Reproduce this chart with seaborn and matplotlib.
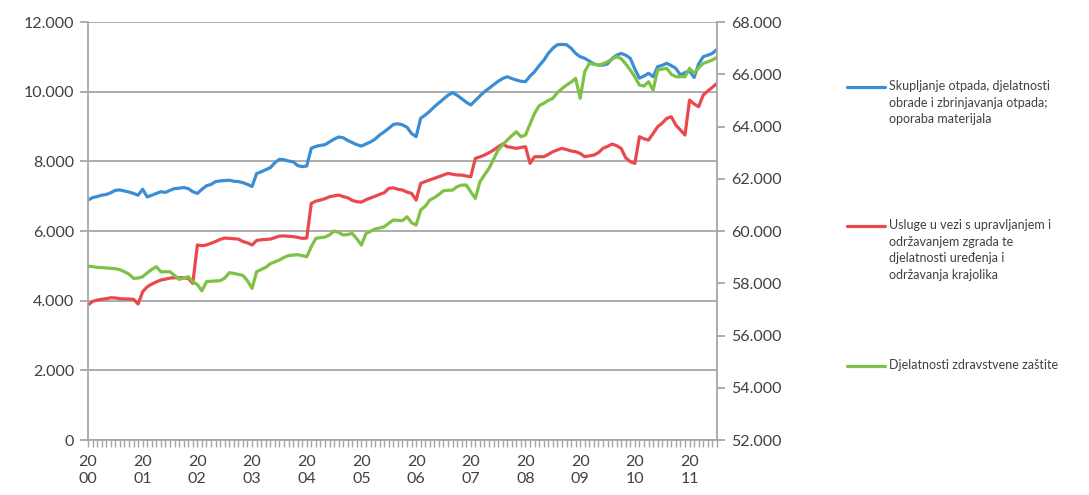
import numpy as np
import pandas as pd
import seaborn as sns
import matplotlib.pyplot as plt
from matplotlib.lines import Line2D
from matplotlib.ticker import FuncFormatter, MultipleLocator

# monthly values, Jan 2000 .. Jul 2011
waste = [
    6890, 6960, 6990, 7030, 7050, 7100, 7170, 7180, 7150, 7120, 7080, 7030,
    7200, 6980, 7030, 7080, 7130, 7110, 7170, 7220, 7230, 7250, 7220, 7130,
    7080, 7200, 7300, 7340, 7420, 7440, 7450, 7460, 7430, 7420, 7390, 7340,
    7280, 7650, 7700, 7760, 7820, 7960, 8060, 8050, 8010, 7990, 7880, 7850,
    7870, 8380, 8430, 8460, 8480, 8560, 8640, 8700, 8680, 8600, 8540, 8480,
    8440, 8500, 8560, 8640, 8760, 8850, 8950, 9060, 9080, 9050, 8980, 8800,
    8710, 9240, 9330, 9440, 9570, 9680, 9790, 9900, 9970, 9900, 9800, 9700,
    9620, 9750, 9880, 10000, 10100, 10200, 10300, 10380, 10430, 10380, 10335, 10300,
    10290, 10450, 10575, 10750, 10900, 11100, 11250, 11350, 11360, 11350, 11250, 11100,
    11005, 10960, 10880, 10800, 10765, 10765, 10800, 10950, 11050, 11100, 11050, 10960,
    10650, 10390, 10450, 10530, 10430, 10720, 10760, 10815, 10750, 10670, 10480, 10550,
    10600, 10410, 10800, 11005, 11050, 11100, 11215,
]
buildings = [
    3876, 3980, 4020, 4040, 4060, 4085, 4080, 4060, 4050, 4050, 4040, 3905,
    4258, 4400, 4480, 4540, 4594, 4620, 4650, 4660, 4660, 4660, 4640, 4500,
    5600, 5580, 5600, 5650, 5700, 5760, 5800, 5790, 5780, 5770, 5700, 5660,
    5600, 5730, 5750, 5760, 5770, 5810, 5857, 5860, 5850, 5840, 5820, 5790,
    5800, 6795, 6860, 6890, 6930, 6985, 7010, 7035, 6990, 6957, 6880, 6843,
    6830, 6900, 6950, 7000, 7054, 7100, 7226, 7240, 7200, 7178, 7120, 7082,
    6890, 7370, 7420, 7470, 7513, 7560, 7610, 7657, 7630, 7610, 7608, 7580,
    7560, 8087, 8130, 8182, 8250, 8326, 8420, 8498, 8422, 8400, 8374, 8400,
    8422, 7944, 8135, 8135, 8135, 8200, 8278, 8330, 8374, 8340, 8300, 8278,
    8230, 8135, 8160, 8182, 8250, 8374, 8430, 8498, 8450, 8374, 8100, 7990,
    7944, 8708, 8650, 8613, 8800, 8995, 9100, 9235, 9282, 9043, 8900, 8756,
    9760, 9650, 9570, 9905, 10020, 10125, 10240,
]
health = [
    58661, 58640, 58611, 58600, 58590, 58572, 58560, 58520, 58444, 58350, 58190, 58200,
    58253, 58400, 58534, 58635, 58440, 58444, 58444, 58300, 58152, 58200, 58253, 58063,
    57950, 57716, 58063, 58080, 58090, 58100, 58200, 58405, 58380, 58343, 58300, 58100,
    57806, 58444, 58530, 58611, 58750, 58820, 58890, 58990, 59060, 59082, 59095, 59060,
    59017, 59400, 59722, 59750, 59770, 59850, 60000, 59950, 59848, 59870, 59910, 59700,
    59465, 59910, 59990, 60080, 60120, 60166, 60300, 60422, 60410, 60400, 60548, 60318,
    60230, 60804, 60950, 61187, 61280, 61400, 61543, 61560, 61568, 61700, 61761, 61761,
    61500, 61250, 61888, 62150, 62400, 62750, 63102, 63300, 63484, 63650, 63802, 63611,
    63675, 64100, 64506, 64800, 64889, 65000, 65081, 65300, 65450, 65590, 65700, 65846,
    65081, 66100, 66420, 66390, 66355, 66400, 66483, 66580, 66675, 66600, 66400, 66164,
    65900, 65590, 65550, 65716, 65398, 66164, 66200, 66229, 66000, 65909, 65909, 65909,
    66229, 66036, 66250, 66420, 66480, 66547, 66650,
]
years = list(range(2000, 2012))

labels = [
    "Skupljanje otpada, djelatnosti\nobrade i zbrinjavanja otpada;\noporaba materijala",
    "Usluge u vezi s upravljanjem i\nodržavanjem zgrada te\ndjelatnosti uređenja i\nodržavanja krajolika",
    "Djelatnosti zdravstvene zaštite",
]
colors = ["#3b8ed3", "#e9494c", "#7dc145"]

df = pd.DataFrame({"month": np.arange(len(waste)), "waste": waste,
                   "buildings": buildings, "health": health})

sns.set_style("white")
plt.rcParams["font.family"] = ["Lato", "DejaVu Sans"]

fig = plt.figure(figsize=(10.89, 4.95), dpi=100)
ax = fig.add_axes([0.0808, 0.111, 0.5775, 0.8444])
ax2 = ax.twinx()

sns.lineplot(data=df, x="month", y="waste", ax=ax, color=colors[0], linewidth=2.3)
sns.lineplot(data=df, x="month", y="buildings", ax=ax, color=colors[1], linewidth=2.3)
sns.lineplot(data=df, x="month", y="health", ax=ax2, color=colors[2], linewidth=2.3)

grey = "#a6a6a6"
txt = "#404040"
thousands = FuncFormatter(lambda v, p: f"{v:,.0f}".replace(",", "."))

ax.set_xlim(0, len(waste) - 1)
ax.set_ylim(0, 12000)
ax2.set_ylim(52000, 68000)
ax.yaxis.set_major_locator(MultipleLocator(2000))
ax2.yaxis.set_major_locator(MultipleLocator(2000))
ax.yaxis.set_major_formatter(thousands)
ax2.yaxis.set_major_formatter(thousands)
ax.set_xticks([12 * k for k in range(len(years))])
ax.set_xticklabels([f"{str(y)[:2]}\n{str(y)[2:]}" for y in years])
ax.xaxis.set_minor_locator(MultipleLocator(1))
ax.set_xlabel("")
ax.set_ylabel("")
ax2.set_ylabel("")

ax.grid(axis="y", color=grey, linewidth=1.3)
ax.grid(axis="x", visible=False)
ax2.grid(False)
ax.set_axisbelow(True)

for a in (ax, ax2):
    for side in ["top", "left", "right", "bottom"]:
        a.spines[side].set_visible(False)
ax.spines["left"].set_visible(True)
ax.spines["bottom"].set_visible(True)
ax2.spines["right"].set_visible(True)
for sp in (ax.spines["left"], ax.spines["bottom"], ax2.spines["right"]):
    sp.set_color(grey)
    sp.set_linewidth(1.3)

ax.tick_params(axis="y", which="major", direction="out", length=6, width=1.3,
               color=grey, labelsize=11.5, labelcolor=txt, pad=4, left=True)
ax2.tick_params(axis="y", which="major", direction="out", length=6, width=1.3,
                color=grey, labelsize=11.5, labelcolor=txt, pad=4, right=True)
ax.tick_params(axis="x", which="major", direction="out", length=5, width=1,
               color=grey, labelsize=11.5, labelcolor=txt, pad=6, bottom=True)
ax.tick_params(axis="x", which="minor", direction="out", length=5, width=1,
               color=grey, bottom=True)
for t in ax.get_xticklabels():
    t.set_linespacing(1.25)

# legend at the right, line aligned with the first text row
legend_rows = [0.824, 0.543, 0.261]
for lab, col, yy in zip(labels, colors, legend_rows):
    fig.add_artist(Line2D([0.778, 0.813], [yy, yy], color=col, linewidth=2.3,
                          transform=fig.transFigure))
    fig.text(0.816, yy + 0.014, lab, fontsize=9, color=txt, va="top", ha="left",
             linespacing=1.45)

fig.savefig("out.png", dpi=100)
